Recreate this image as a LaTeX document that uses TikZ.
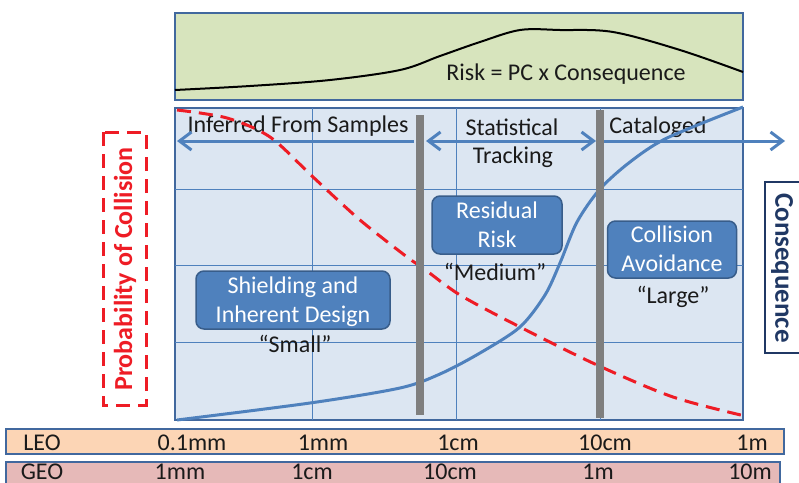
\documentclass[tikz,border=0pt]{standalone}
\usepackage{fontspec}
\setmainfont{Carlito}
\usetikzlibrary{arrows.meta}
\definecolor{framebl}{HTML}{41689E}
\definecolor{gridbl}{HTML}{4F81BD}
\definecolor{chartbg}{HTML}{DCE6F2}
\definecolor{greenbg}{HTML}{D7E4BD}
\definecolor{boxfill}{HTML}{4F81BD}
\definecolor{boxedge}{HTML}{385D8A}
\definecolor{leocol}{HTML}{FCD5B5}
\definecolor{geocol}{HTML}{E6B9B8}
\definecolor{pcred}{HTML}{EE1C25}
\definecolor{navy}{HTML}{203864}
\definecolor{barg}{HTML}{7F7F7F}
\definecolor{txt}{HTML}{1A1A1A}
\tikzset{
  lbl/.style={font=\fontsize{24}{29}\selectfont, text=txt, inner sep=0pt, anchor=base},
  wlbl/.style={font=\fontsize{24}{29}\selectfont, text=white, inner sep=0pt, anchor=base},
  rbox/.style={draw=boxedge, line width=1.5pt, fill=boxfill, rounded corners=8pt, inner sep=0pt},
  zonearrow/.style={draw=gridbl, line width=3pt, arrows={-Straight Barb[length=12pt,width=18pt]}},
  gridline/.style={draw=gridbl, line width=1pt},
  divider/.style={draw=barg, line width=8pt},
  pccurve/.style={draw=pcred, line width=3pt, dash pattern=on 14pt off 8pt},
  conscurve/.style={draw=gridbl, line width=3pt},
}
\begin{document}
\begin{tikzpicture}[x=1pt,y=-1pt]
\useasboundingbox (0,0) rectangle (799,482);
% risk panel
\draw[framebl, line width=2pt, fill=greenbg] (175,13) rectangle (743,100);
\draw[black, line width=2pt] plot[smooth, tension=0.55] coordinates {(175,90) (250,86) (330,80) (400,70) (440,56) (480,42) (520,30) (560,30) (613,32) (680,50) (743,72)};
\node[lbl] (risk) at (566,80) {Risk = PC x Consequence};
% chart
\draw[framebl, line width=2pt, fill=chartbg] (175,108) rectangle (743,420);
\foreach \gx in {312,456,600} \draw[gridline] (\gx,108) -- (\gx,420);
\foreach \gy in {189,265,342} \draw[gridline] (175,\gy) -- (743,\gy);
% zone labels
\node[lbl] (inferred) at (298,132) {Inferred From Samples};
\node[lbl] (stat1) at (512,135) {Statistical};
\node[lbl] (stat2) at (513,163) {Tracking};
\node[lbl] (catal) at (658,133) {Cataloged};
% arrows
\coordinate (a1s) at (414,141); \coordinate (a1e) at (177,141);
\coordinate (a2s) at (426,141); \coordinate (a2e) at (596,141);
\coordinate (a3s) at (604,141); \coordinate (a3e) at (785,141);
\draw[zonearrow] (a1s) -- (a1e);
\draw[zonearrow, arrows={Straight Barb[length=12pt,width=18pt]-Straight Barb[length=12pt,width=18pt]}] (a2s) -- (a2e);
\draw[zonearrow] (a3s) -- (a3e);
% boxes
\node[rbox, minimum width=194pt, minimum height=58pt] (shield) at (293,300) {};
\node[wlbl] (shield1) at (293,293) {Shielding and};
\node[wlbl] (shield2) at (293,322) {Inherent Design};
\node[lbl] (small) at (295,352) {“Small”};
\node[rbox, minimum width=130pt, minimum height=58pt] (resid) at (497,225) {};
\node[wlbl] (resid1) at (497,218) {Residual};
\node[wlbl] (resid2) at (497,247) {Risk};
\node[lbl] (medium) at (495,280) {“Medium”};
\node[rbox, minimum width=129pt, minimum height=57pt] (colav) at (672,249.5) {};
\node[wlbl] (colav1) at (672,242) {Collision};
\node[wlbl] (colav2) at (672,271) {Avoidance};
\node[lbl] (large) at (673,303) {“Large”};
% curves
\draw[pccurve] plot[smooth, tension=0.5] coordinates {(177,110) (227,118) (270,137) (313,177) (360,220) (407,257) (423,268) (460,295) (520,327) (597,365) (673,397) (745,416)};
\draw[conscurve] plot[smooth, tension=0.5] coordinates {(177,420) (310,403) (400,388) (440,374) (480,353) (520,327) (545,295) (560,263) (577,222) (600,189) (630,162) (667,138) (743,107)};
% dividers
\coordinate (d1t) at (420,115); \coordinate (d1b) at (420,415);
\coordinate (d2t) at (600,110); \coordinate (d2b) at (600,418);
\draw[divider] (d1t) -- (d1b);
\draw[divider] (d2t) -- (d2b);
% axis titles
\draw[pcred, line width=3pt, dash pattern=on 14pt off 8pt] (103,132) rectangle (146,405);
\node[font=\fontsize{26}{30}\selectfont\bfseries, text=pcred, rotate=90, inner sep=0pt] (pc) at (125,269) {Probability of Collision};
\draw[navy, line width=2.5pt] (810,182) -- (765,182) -- (765,353) -- (810,353);
\node[font=\fontsize{27}{30}\selectfont\bfseries, text=navy, rotate=-90, inner sep=0pt] (cons) at (782,268) {Consequence};
% size scales
\draw[framebl, line width=2pt, fill=leocol] (6,429) rectangle (784,454);
\draw[framebl, line width=2pt, fill=geocol] (6,462) rectangle (780,492);
\node[lbl] (leo) at (42,450) {LEO};
\node[lbl] (l1) at (192,450) {0.1mm};
\node[lbl] (l2) at (323,450) {1mm};
\node[lbl] (l3) at (458,450) {1cm};
\node[lbl] (l4) at (605,450) {10cm};
\node[lbl] (l5) at (752,450) {1m};
\node[lbl] (geo) at (42,479.5) {GEO};
\node[lbl] (g1) at (180,479.5) {1mm};
\node[lbl] (g2) at (312,479.5) {1cm};
\node[lbl] (g3) at (450,479.5) {10cm};
\node[lbl] (g4) at (598,479.5) {1m};
\node[lbl] (g5) at (750,479.5) {10m};
\end{tikzpicture}
\end{document}
